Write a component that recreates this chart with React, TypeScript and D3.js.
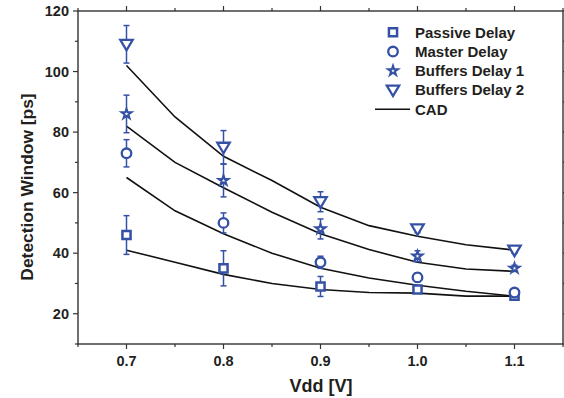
import React from "react";
import * as d3 from "d3";

const xValues = [0.7, 0.8, 0.9, 1.0, 1.1];
const passive = [46, 35, 29, 28, 26];
const passiveErr = [6.4, 5.8, 3.3, 1.2, 1];
const master = [73, 50, 37, 32, 27];
const masterErr = [4.5, 3.3, 2, 1.5, 1];
const buffers1 = [86, 64, 48, 39, 35];
const buffers1Err = [6.2, 5.4, 3.3, 1.8, 1];
const buffers2 = [109, 75, 57, 48, 41];
const buffers2Err = [6.2, 5.5, 3.3, 1.2, 1];

const cadX = [0.7, 0.75, 0.8, 0.85, 0.9, 0.95, 1.0, 1.05, 1.1];
const cadPassive = [41, 37, 33, 30, 28, 27, 26.8, 25.8, 25.8];
const cadMaster = [65, 54, 46.4, 40, 35, 31.8, 29.4, 27.4, 25.8];
const cadBuffers1 = [82, 70, 61.6, 53.5, 46.4, 41.2, 37, 34.8, 34];
const cadBuffers2 = [102, 85, 72, 64, 55.2, 49.1, 45.6, 42.8, 41];

const xTicks = [0.7, 0.8, 0.9, 1.0, 1.1];
const xMinor = [0.65, 0.75, 0.85, 0.95, 1.05, 1.15];
const yTicks = [20, 40, 60, 80, 100, 120];
const yMinor = [10, 30, 50, 70, 90, 110];

const legendLabels = ["Passive Delay", "Master Delay", "Buffers Delay 1", "Buffers Delay 2", "CAD"];

const W = 564, H = 398;
const M = { left: 78, right: 563, top: 11, bottom: 344 };
const BLUE = "#3451a5";
const TEXT = "#231f20";
const FONT = "'Liberation Sans', Arial, sans-serif";

const triDown = {
  draw(ctx: any, size: number) {
    const h = Math.sqrt(size);
    ctx.moveTo(-h * 0.62, -h * 0.45);
    ctx.lineTo(h * 0.62, -h * 0.45);
    ctx.lineTo(0, h * 0.6);
    ctx.closePath();
  },
};

export default function App() {
  const x = d3.scaleLinear().domain([0.65, 1.15]).range([M.left, M.right]);
  const y = d3.scaleLinear().domain([10, 120]).range([M.bottom, M.top]);
  const line = d3
    .line<number>()
    .x((_, i) => x(cadX[i]))
    .y((d) => y(d));

  const series = [
    { vals: passive, err: passiveErr, sym: d3.symbol(d3.symbolSquare, 66)(), sw: 2.5 },
    { vals: master, err: masterErr, sym: d3.symbol(d3.symbolCircle, 72)(), sw: 2.3 },
    { vals: buffers1, err: buffers1Err, sym: d3.symbol(d3.symbolStar, 30)(), sw: 2 },
    { vals: buffers2, err: buffers2Err, sym: d3.symbol(triDown as any, 100)(), sw: 2.3 },
  ];
  const cads = [cadPassive, cadMaster, cadBuffers1, cadBuffers2];

  const legendY = d3.scaleLinear().domain([0, 4]).range([32.3, 109.3]);

  return (
    <svg
      width={W}
      height={H}
      style={{ position: "fixed", left: 0, top: 0, background: "#fff" }}
      fontFamily={FONT}
    >
      <rect x={0} y={0} width={W} height={H} fill="#fff" />
      {cads.map((c, i) => (
        <path key={"c" + i} d={line(c) || ""} fill="none" stroke="#111" strokeWidth={1.6} />
      ))}
      {series.map((s, si) => (
        <g key={"s" + si}>
          {s.vals.map((v, i) => {
            const cx = x(xValues[i]);
            const y1 = y(v + s.err[i]);
            const y2 = y(v - s.err[i]);
            return (
              <g key={i}>
                <line x1={cx} x2={cx} y1={y1} y2={y2} stroke={BLUE} strokeWidth={1.5} />
                <line x1={cx - 3} x2={cx + 3} y1={y1} y2={y1} stroke={BLUE} strokeWidth={1.5} />
                <line x1={cx - 3} x2={cx + 3} y1={y2} y2={y2} stroke={BLUE} strokeWidth={1.5} />
                <path
                  d={s.sym || ""}
                  transform={`translate(${cx},${y(v)})`}
                  fill="#fff"
                  stroke={BLUE}
                  strokeWidth={s.sw}
                />
              </g>
            );
          })}
        </g>
      ))}
      <rect
        x={M.left}
        y={M.top}
        width={M.right - M.left}
        height={M.bottom - M.top}
        fill="none"
        stroke="#333"
        strokeWidth={1.4}
      />
      {xTicks.map((t) => (
        <g key={"xt" + t}>
          <line x1={x(t)} x2={x(t)} y1={M.bottom} y2={M.bottom + 5} stroke="#333" strokeWidth={1.2} />
          <line x1={x(t)} x2={x(t)} y1={M.top} y2={M.top - 5} stroke="#333" strokeWidth={1.2} />
          <text x={x(t)} y={366} textAnchor="middle" fontSize={14.5} fontWeight="bold" fill={TEXT}>
            {d3.format(".1f")(t)}
          </text>
        </g>
      ))}
      {xMinor.map((t) => (
        <g key={"xm" + t}>
          <line x1={x(t)} x2={x(t)} y1={M.bottom} y2={M.bottom + 3} stroke="#333" strokeWidth={1.2} />
          <line x1={x(t)} x2={x(t)} y1={M.top} y2={M.top - 3} stroke="#333" strokeWidth={1.2} />
        </g>
      ))}
      {yTicks.map((t) => (
        <g key={"yt" + t}>
          <line x1={M.left} x2={M.left - 5} y1={y(t)} y2={y(t)} stroke="#333" strokeWidth={1.2} />
          <line x1={M.right} x2={M.right + 5} y1={y(t)} y2={y(t)} stroke="#333" strokeWidth={1.2} />
          <text x={69} y={y(t) + 5} textAnchor="end" fontSize={14.5} fontWeight="bold" fill={TEXT}>
            {t}
          </text>
        </g>
      ))}
      {yMinor.map((t) => (
        <g key={"ym" + t}>
          <line x1={M.left} x2={M.left - 3} y1={y(t)} y2={y(t)} stroke="#333" strokeWidth={1.2} />
          <line x1={M.right} x2={M.right + 3} y1={y(t)} y2={y(t)} stroke="#333" strokeWidth={1.2} />
        </g>
      ))}
      <text x={321} y={392} textAnchor="middle" fontSize={18} fontWeight="bold" fill={TEXT}>
        Vdd [V]
      </text>
      <text
        transform={`translate(33,187) rotate(-90)`}
        textAnchor="middle"
        fontSize={17.4}
        fontWeight="bold"
        fill={TEXT}
      >
        Detection Window [ps]
      </text>
      {legendLabels.map((lab, i) => {
        const ly = legendY(i);
        return (
          <g key={"l" + i}>
            {i < 4 ? (
              <path
                d={series[i].sym || ""}
                transform={`translate(393,${ly})`}
                fill="#fff"
                stroke={BLUE}
                strokeWidth={series[i].sw}
              />
            ) : (
              <line x1={375} x2={410} y1={ly} y2={ly} stroke="#111" strokeWidth={1.6} />
            )}
            <text x={415} y={ly + 5.4} fontSize={15} fontWeight="bold" fill={TEXT}>
              {lab}
            </text>
          </g>
        );
      })}
    </svg>
  );
}
